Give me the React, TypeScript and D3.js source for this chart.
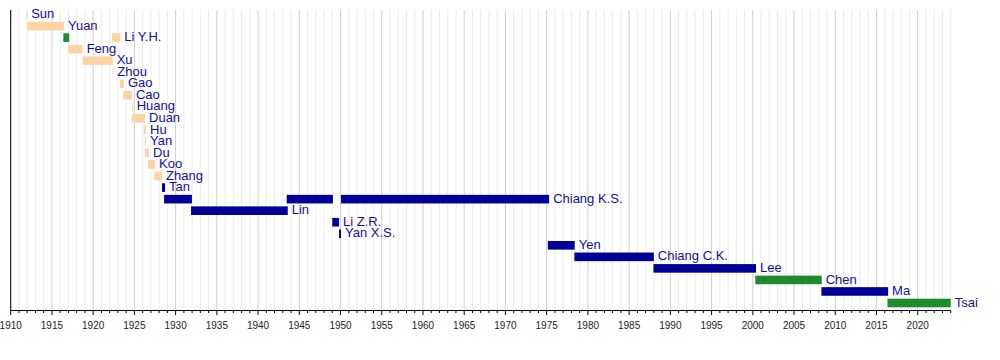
import React from "react";
import * as d3 from "d3";

const presidents = [
  "Sun", "Yuan", "Li Y.H.", "Feng", "Xu", "Zhou", "Gao", "Cao", "Huang", "Duan",
  "Hu", "Yan", "Du", "Koo", "Zhang", "Tan", "Chiang K.S.", "Lin", "Li Z.R.", "Yan X.S.",
  "Yen", "Chiang C.K.", "Lee", "Chen", "Ma", "Tsai",
];

// one entry per term
const termPresident = [
  "Sun", "Yuan", "Li Y.H.", "Li Y.H.", "Feng", "Xu", "Zhou", "Gao", "Cao", "Huang",
  "Duan", "Hu", "Yan", "Du", "Koo", "Zhang", "Tan", "Chiang K.S.", "Lin", "Chiang K.S.",
  "Li Z.R.", "Yan X.S.", "Chiang K.S.", "Yen", "Chiang C.K.", "Lee", "Chen", "Ma", "Tsai",
];
const termStart = [
  1911.9, 1912.0, 1916.38, 1922.29, 1917.0, 1918.73, 1922.37, 1923.26, 1923.66, 1924.71,
  1924.71, 1926.13, 1926.29, 1926.29, 1926.65, 1927.42, 1928.35, 1928.6, 1931.87, 1943.47,
  1949.0, 1949.82, 1950.06, 1975.15, 1978.36, 1987.95, 2000.3, 2008.32, 2016.33,
];
const termEnd = [
  1912.0, 1916.46, 1917.1, 1923.29, 1918.73, 1922.37, 1922.45, 1923.74, 1924.71, 1924.8,
  1926.29, 1926.41, 1926.41, 1926.78, 1927.5, 1928.35, 1928.72, 1931.98, 1943.6, 1949.08,
  1949.82, 1950.06, 1975.3, 1978.4, 1988.0, 2000.39, 2008.36, 2016.41, 2024.0,
];
const termParty = [
  "Beiyang", "Beiyang", "Progressive", "Beiyang", "Beiyang", "Beiyang", "Beiyang", "Beiyang", "Beiyang", "Beiyang",
  "Beiyang", "Beiyang", "Beiyang", "Beiyang", "Beiyang", "Beiyang", "Kuomintang", "Kuomintang", "Kuomintang", "Kuomintang",
  "Kuomintang", "Kuomintang", "Kuomintang", "Kuomintang", "Kuomintang", "Kuomintang", "DPP", "Kuomintang", "DPP",
];

const partyNames = ["Beiyang", "Progressive", "Kuomintang", "DPP"];
const partyColors = ["#FCD3A3", "#1E8B2E", "#000099", "#1E8B2E"];

const yearStart = 1910;
const yearEnd = 2024;

export default function App() {
  const width = 1000;
  const height = 360;
  const x = d3.scaleLinear().domain([yearStart, yearEnd]).range([10.7, 950.7]);
  const y = d3.scalePoint<string>().domain(presidents).range([14.5, 303]);
  const color = d3.scaleOrdinal<string, string>().domain(partyNames).range(partyColors);
  const barH = 8.6;
  const gridTop = 10;
  const axisY = 310.5;

  const years = d3.range(yearStart, yearEnd + 1);
  const majors = years.filter((yr) => yr % 5 === 0);

  const terms = termPresident.map((p, i) => ({
    p,
    s: termStart[i],
    e: termEnd[i],
    party: termParty[i],
  }));

  const lastEnd = new Map<string, number>();
  terms.forEach((t) => {
    lastEnd.set(t.p, Math.max(lastEnd.get(t.p) ?? -Infinity, t.e));
  });

  return (
    <svg
      width={width}
      height={height}
      style={{ position: "absolute", left: 0, top: 0, background: "#fff" }}
      fontFamily="'Liberation Sans', Arial, sans-serif"
    >
      {/* minor grid */}
      {years
        .filter((yr) => yr % 5 !== 0)
        .map((yr) => (
          <line key={"g" + yr} x1={x(yr)} x2={x(yr)} y1={gridTop} y2={axisY} stroke="#ececec" strokeWidth={1} />
        ))}
      {majors.map((yr) => (
        <line key={"G" + yr} x1={x(yr)} x2={x(yr)} y1={gridTop} y2={axisY} stroke="#cfcfcf" strokeWidth={1} />
      ))}

      {/* bars */}
      {terms.map((t, i) => {
        const x0 = x(t.s);
        const w = Math.max(1, x(t.e) - x0);
        return (
          <rect
            key={"b" + i}
            x={x0}
            y={(y(t.p) as number) - barH / 2}
            width={w}
            height={barH}
            fill={color(t.party)}
          />
        );
      })}

      {/* labels */}
      {presidents.map((p) => (
        <text
          key={"l" + p}
          x={x(lastEnd.get(p) as number) + 4}
          y={(y(p) as number) + 3.6}
          fontSize={13}
          fill="#1010A0"
        >
          {p}
        </text>
      ))}

      {/* axes */}
      <line x1={x(yearStart)} x2={x(yearStart)} y1={gridTop} y2={axisY} stroke="#000" strokeWidth={1} />
      <line x1={x(yearStart)} x2={x(yearEnd)} y1={axisY} y2={axisY} stroke="#000" strokeWidth={1} />
      {years.map((yr) => (
        <line
          key={"t" + yr}
          x1={x(yr)}
          x2={x(yr)}
          y1={axisY}
          y2={axisY + (yr % 5 === 0 ? 4.5 : 2.5)}
          stroke="#000"
          strokeWidth={1}
        />
      ))}
      {majors.map((yr) => (
        <text key={"tl" + yr} x={x(yr)} y={328.5} fontSize={10} textAnchor="middle" fill="#222">
          {yr}
        </text>
      ))}
    </svg>
  );
}
